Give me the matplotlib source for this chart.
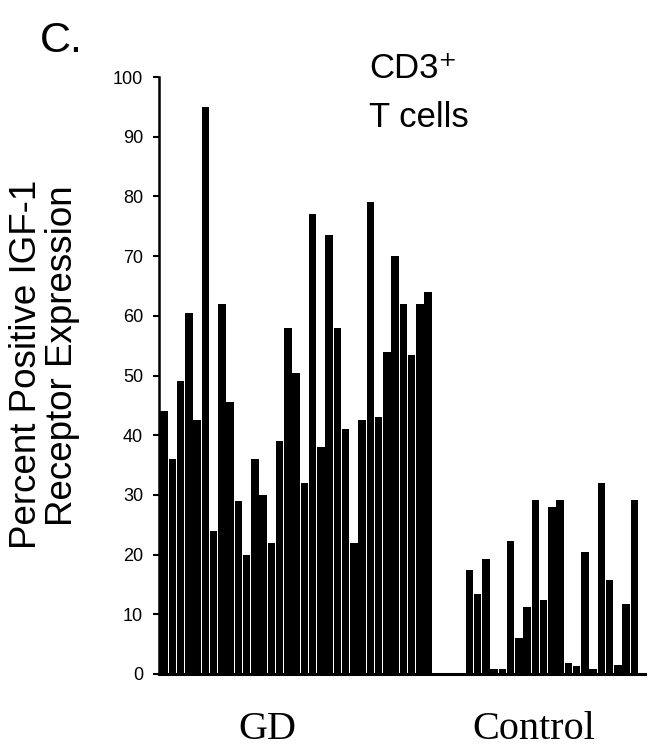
import matplotlib
matplotlib.use("Agg")
import matplotlib.pyplot as plt
import numpy as np

# ---- data ----
gd_values = [44, 36, 49, 60.5, 42.5, 95, 24, 62, 45.5, 29, 20, 36, 30, 22, 39,
             58, 50.5, 32, 77, 38, 73.5, 58, 41, 22, 42.5, 79, 43, 54, 70, 62,
             53.5, 62, 64]
control_values = [17.5, 13.4, 19.2, 0.8, 0.8, 22.2, 6.1, 11.3, 29.1, 12.4, 27.9,
                  29.1, 1.9, 1.4, 20.5, 0.9, 32, 15.7, 1.5, 11.7, 29.1]
group_labels = ["GD", "Control"]
y_ticks = list(range(0, 101, 10))
y_label_lines = ["Percent Positive IGF-1", "Receptor Expression"]
title_lines = ["CD3\u207a", "T cells"]
panel_label = "C."

W, H = 651, 748
fig = plt.figure(figsize=(W / 100, H / 100), dpi=100)
fig.patch.set_facecolor("white")

def fx(x):
    return x / W

def fy(y):
    return 1 - y / H

# axes placement
left_px, right_px, bottom_px, top_px = 158.5, 645, 674, 77
ax = fig.add_axes([fx(left_px), fy(bottom_px), (right_px - left_px) / W,
                   (bottom_px - top_px) / H])

gap = 4
gd_x = np.arange(len(gd_values))
ctrl_x = np.arange(len(control_values)) + len(gd_values) + gap

ax.bar(gd_x, gd_values, width=0.88, color="black", linewidth=0)
ax.bar(ctrl_x, control_values, width=0.88, color="black", linewidth=0)

step = 8.25
xl = -0.5 - (160 - left_px) / step
ax.set_xlim(xl, xl + (right_px - left_px) / step)
ax.set_ylim(0, 100)

for s in ["top", "right"]:
    ax.spines[s].set_visible(False)
ax.spines["left"].set_linewidth(1.8)
ax.spines["bottom"].set_linewidth(2.2)
ax.spines["left"].set_color("black")
ax.spines["bottom"].set_color("black")

sans = ["Liberation Sans", "DejaVu Sans"]
serif = ["Liberation Serif", "DejaVu Serif"]

ax.set_xticks([])
ax.set_yticks(y_ticks)
ax.set_yticklabels([str(t) for t in y_ticks], fontsize=13, family=sans)
ax.tick_params(axis="y", direction="out", length=4.5, width=1.5, pad=6.5,
               colors="black")

# group labels
fig.text(fx(267), fy(739), group_labels[0], ha="center", va="baseline",
         fontsize=29, family=serif)
fig.text(fx(534), fy(739), group_labels[1], ha="center", va="baseline",
         fontsize=29, family=serif)

# title
fig.text(fx(369), fy(78), title_lines[0], ha="left", va="baseline",
         fontsize=25, family=sans)
fig.text(fx(369), fy(127), title_lines[1], ha="left", va="baseline",
         fontsize=25, family=sans)

# panel label
fig.text(fx(40), fy(52), panel_label, ha="left", va="baseline",
         fontsize=31, family=sans)

# y label lines
fig.text(fx(27), fy(364), y_label_lines[0], rotation=90, ha="center",
         va="center", fontsize=26.5, family=sans)
fig.text(fx(63), fy(356), y_label_lines[1], rotation=90, ha="center",
         va="center", fontsize=26.5, family=sans)

fig.savefig("out.png", dpi=100, facecolor="white")
